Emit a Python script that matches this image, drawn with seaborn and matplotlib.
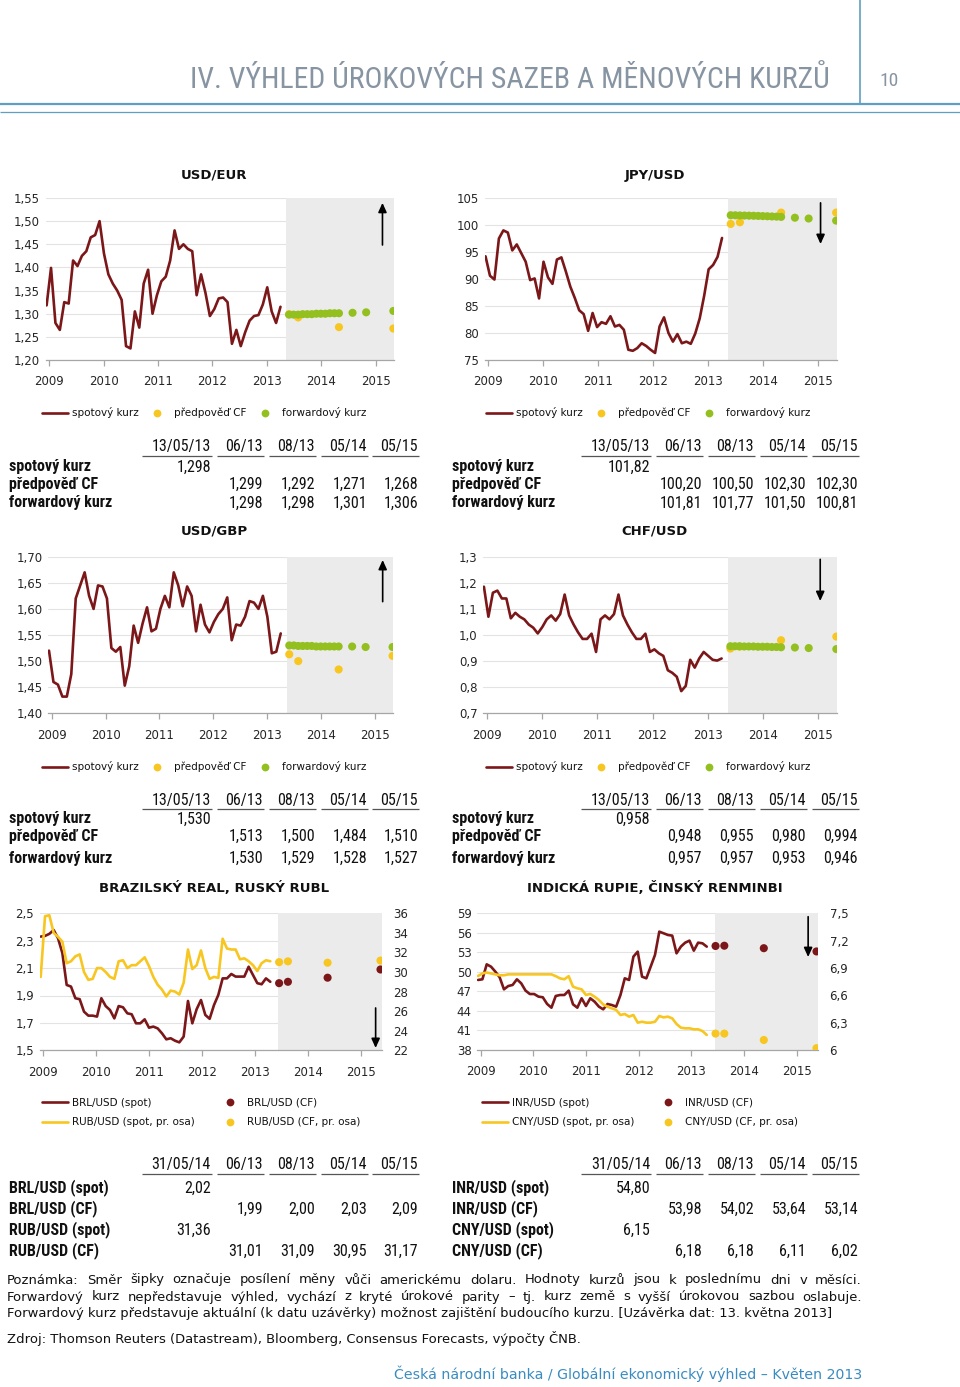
import matplotlib
matplotlib.use('Agg')
import numpy as np
import matplotlib.pyplot as plt
import seaborn as sns
from matplotlib import font_manager
from matplotlib.lines import Line2D

W, H = 960, 1387

# ---------------------------------------------------------------- data
year_labels = ['2009', '2010', '2011', '2012', '2013', '2014', '2015']
# months counted from January 2009 = 0
cf_months = [53, 55, 64, 76]                      # 06/13, 08/13, 05/14, 05/15
fwd_months = list(range(53, 65)) + [67, 70, 76]   # monthly to 05/14, then 08/14, 11/14, 05/15
fwd_in_table = [0, 2, 11, 14]                     # which forward points are in the tables

heads = ['13/05/13', '06/13', '08/13', '05/14', '05/15']
heads_em = ['31/05/14', '06/13', '08/13', '05/14', '05/15']

# USD/EUR
eur_spot = [1.318, 1.399, 1.280, 1.265, 1.325, 1.322, 1.415, 1.403, 1.425, 1.435,
            1.465, 1.470, 1.500, 1.430, 1.385, 1.365, 1.350, 1.330, 1.230, 1.225,
            1.305, 1.270, 1.365, 1.395, 1.300, 1.340, 1.370, 1.380, 1.415, 1.480,
            1.440, 1.450, 1.440, 1.435, 1.340, 1.385, 1.345, 1.295, 1.310, 1.333,
            1.335, 1.325, 1.235, 1.265, 1.230, 1.260, 1.285, 1.295, 1.297, 1.320,
            1.357, 1.305, 1.280, 1.315]
eur_now = 1.298
eur_cf = [1.299, 1.292, 1.271, 1.268]
eur_fwd = [1.298, 1.298, 1.298, 1.299, 1.299, 1.299, 1.300, 1.300, 1.300, 1.301,
           1.301, 1.301, 1.302, 1.303, 1.306]

# JPY/USD
jpy_spot = [94.2, 90.6, 89.9, 97.5, 99.0, 98.6, 95.3, 96.4, 94.8, 93.2,
            89.8, 90.1, 86.4, 93.2, 90.3, 89.1, 93.6, 94.0, 91.4, 88.6,
            86.5, 84.2, 83.5, 80.4, 83.7, 81.1, 82.0, 81.7, 83.1, 81.2,
            81.5, 80.6, 76.9, 76.7, 77.2, 78.1, 77.6, 76.9, 76.3, 81.2,
            82.9, 80.0, 78.4, 79.8, 78.1, 78.4, 78.0, 79.9, 82.7, 86.9,
            91.8, 92.6, 94.1, 97.6]
jpy_now = 101.82
jpy_cf = [100.20, 100.50, 102.30, 102.30]
jpy_fwd = [101.81, 101.80, 101.77, 101.75, 101.73, 101.71, 101.68, 101.65, 101.62,
           101.58, 101.55, 101.50, 101.35, 101.20, 100.81]

# USD/GBP
gbp_spot = [1.520, 1.460, 1.455, 1.432, 1.432, 1.475, 1.620, 1.645, 1.670, 1.625,
            1.600, 1.645, 1.643, 1.620, 1.525, 1.518, 1.527, 1.453, 1.490, 1.568,
            1.535, 1.572, 1.603, 1.557, 1.562, 1.600, 1.625, 1.603, 1.670, 1.645,
            1.605, 1.643, 1.625, 1.557, 1.608, 1.570, 1.555, 1.575, 1.590, 1.600,
            1.622, 1.540, 1.570, 1.568, 1.585, 1.615, 1.612, 1.600, 1.625, 1.585,
            1.515, 1.518, 1.553]
gbp_now = 1.530
gbp_cf = [1.513, 1.500, 1.484, 1.510]
gbp_fwd = [1.530, 1.530, 1.529, 1.529, 1.529, 1.529, 1.528, 1.528, 1.528, 1.528,
           1.528, 1.528, 1.528, 1.527, 1.527]

# CHF/USD
chf_spot = [1.185, 1.070, 1.162, 1.170, 1.140, 1.140, 1.064, 1.085, 1.070, 1.060,
            1.040, 1.028, 1.006, 1.030, 1.060, 1.075, 1.055, 1.080, 1.155, 1.075,
            1.040, 1.010, 0.985, 0.985, 1.005, 0.935, 1.060, 1.075, 1.060, 1.080,
            1.155, 1.075, 1.040, 1.010, 0.985, 0.985, 1.005, 0.935, 0.945, 0.930,
            0.920, 0.865, 0.855, 0.840, 0.785, 0.805, 0.905, 0.875, 0.910, 0.935,
            0.920, 0.905, 0.902, 0.910]
chf_now = 0.958
chf_cf = [0.948, 0.955, 0.980, 0.994]
chf_fwd = [0.957, 0.957, 0.957, 0.956, 0.956, 0.956, 0.955, 0.955, 0.955, 0.954,
           0.954, 0.953, 0.952, 0.950, 0.946]

# BRL/USD (left axis) and RUB/USD (right axis)
brl_spot = [2.330, 2.335, 2.350, 2.378, 2.318, 2.210, 1.977, 1.965, 1.880, 1.873,
            1.782, 1.753, 1.753, 1.746, 1.880, 1.823, 1.794, 1.733, 1.823, 1.814,
            1.770, 1.763, 1.697, 1.697, 1.726, 1.665, 1.673, 1.660, 1.624, 1.580,
            1.588, 1.570, 1.558, 1.600, 1.860, 1.697, 1.800, 1.867, 1.758, 1.730,
            1.830, 1.904, 2.025, 2.025, 2.057, 2.038, 2.038, 2.038, 2.110, 2.050,
            1.990, 1.982, 2.025, 2.000]
rub_spot = [29.5, 35.7, 35.8, 34.0, 33.6, 33.1, 30.9, 31.1, 31.6, 31.8,
            30.0, 29.2, 29.3, 30.4, 30.4, 30.0, 29.5, 29.3, 31.1, 31.2,
            30.4, 30.7, 30.7, 31.1, 31.5, 30.6, 29.5, 28.7, 28.2, 27.5,
            28.1, 28.0, 27.7, 28.9, 32.3, 30.3, 30.7, 32.2, 30.4, 29.3,
            29.5, 29.4, 33.4, 32.4, 32.3, 32.3, 31.3, 31.4, 31.1, 30.7,
            30.1, 30.9, 31.2, 31.1]
brl_now, rub_now = 2.02, 31.36
brl_cf = [1.99, 2.00, 2.03, 2.09]
rub_cf = [31.01, 31.09, 30.95, 31.17]

# INR/USD (left axis) and CNY/USD (right axis)
inr_spot = [48.76, 48.86, 51.16, 50.80, 50.04, 49.17, 47.32, 47.83, 47.99, 48.86,
            48.24, 47.12, 46.60, 46.60, 46.20, 46.10, 45.07, 44.50, 46.30, 46.45,
            46.45, 47.12, 45.02, 44.50, 45.94, 44.76, 45.94, 45.43, 44.66, 44.25,
            45.07, 44.91, 44.66, 46.45, 49.01, 48.76, 52.34, 53.11, 49.27, 49.01,
            50.80, 52.60, 56.18, 55.93, 55.67, 55.57, 52.85, 53.88, 54.49, 54.80,
            53.26, 54.49, 54.39, 53.88]
cny_spot = [6.812, 6.840, 6.850, 6.840, 6.830, 6.820, 6.820, 6.830, 6.830, 6.830,
            6.830, 6.830, 6.830, 6.830, 6.830, 6.830, 6.830, 6.830, 6.810, 6.786,
            6.776, 6.810, 6.695, 6.677, 6.666, 6.604, 6.615, 6.585, 6.549, 6.500,
            6.475, 6.457, 6.440, 6.384, 6.395, 6.366, 6.384, 6.300, 6.310, 6.300,
            6.300, 6.310, 6.373, 6.358, 6.366, 6.347, 6.285, 6.245, 6.238, 6.238,
            6.227, 6.227, 6.208, 6.165]
inr_now, cny_now = 54.80, 6.15
inr_cf = [53.98, 54.02, 53.64, 53.14]
cny_cf = [6.18, 6.18, 6.11, 6.02]

# ---------------------------------------------------------------- style
MAROON = '#7b1719'
YELLOW = '#f8c620'
GREEN = '#93c01f'
SHADE = '#ebebeb'
GRID = '#e3e3e3'
AXIS = '#a6a6a6'
HEAD = '#8794a2'
RULE = '#5f9fc4'
LINK = '#3a8cc0'

sns.set_theme(style='white')
fonts = font_manager.fontManager.ttflist
names = {f.name for f in fonts}
NARROW, STRETCH, TABLE_FS = 'DejaVu Sans', 'normal', 8.5
for n in ['Liberation Sans Narrow', 'Roboto Condensed', 'Open Sans Condensed']:
    if n in names:
        NARROW, TABLE_FS = n, 11.5
        break
else:
    if any(f.name == 'DejaVu Sans' and f.stretch == 'condensed' for f in fonts):
        STRETCH, TABLE_FS = 'condensed', 9.5
plt.rcParams['font.family'] = ['DejaVu Sans']
plt.rcParams['text.color'] = '#111111'
NKW = dict(family=NARROW, fontstretch=STRETCH)

# x layout per chart row: axis end, shaded forecast span, spot span, offset of forecast dots
TOP = dict(xmax=76.0, shade=(52.3, 76.0), span=(-0.6, 51.0), off=-0.1)
BOT = dict(xmax=76.8, shade=(53.3, 76.8), span=(-0.6, 51.5), off=0.5)

fig = plt.figure(figsize=(W / 100, H / 100), dpi=100)
renderer = fig.canvas.get_renderer()


def frac(left, top, right, bottom):
    return [left / W, 1 - bottom / H, (right - left) / W, (bottom - top) / H]


def cz(v, d):
    return f'{v:.{d}f}'.replace('.', ',')


def style_axis(ax, row, ylim, yticks, ydec):
    ax.set_xlim(-0.8, row['xmax'])
    ax.set_ylim(*ylim)
    ax.set_yticks(yticks)
    ax.set_yticklabels([cz(t, ydec) for t in yticks])
    ax.set_xticks(range(0, 73, 12))
    ax.set_xticklabels(year_labels)
    ax.set_axisbelow(True)
    ax.grid(axis='y', color=GRID, lw=0.8)
    ax.grid(axis='x', visible=False)
    for s in ('top', 'right', 'left'):
        ax.spines[s].set_visible(False)
    ax.spines['bottom'].set_color(AXIS)
    ax.spines['bottom'].set_linewidth(0.9)
    ax.tick_params(axis='x', bottom=True, length=4, width=0.9, color=AXIS,
                   labelsize=8.5, pad=7, direction='out')
    ax.tick_params(axis='y', left=False, length=0, labelsize=8.5, pad=4)
    ax.set_xlabel('')
    ax.set_ylabel('')


def arrow(ax, x, y0, y1):
    ax.annotate('', xy=(x, y1), xytext=(x, y0), xycoords=('data', 'axes fraction'),
                arrowprops=dict(arrowstyle='-|>,head_length=0.55,head_width=0.25',
                                color='black', lw=1.2, shrinkA=0, shrinkB=0,
                                mutation_scale=10))


def fx_panel(box, row, ylim, yticks, ydec, spot, cf, fwd, arr):
    ax = fig.add_axes(frac(*box))
    ax.axvspan(*row['shade'], color=SHADE, lw=0, zorder=0.8)
    xs = np.linspace(*row['span'], len(spot))
    sns.lineplot(x=xs, y=spot, ax=ax, color=MAROON, lw=1.9, legend=False, zorder=2)
    sns.scatterplot(x=np.array(cf_months) + row['off'], y=cf, ax=ax, color=YELLOW,
                    s=34, edgecolor='none', zorder=3, legend=False)
    sns.scatterplot(x=np.array(fwd_months) + row['off'], y=fwd, ax=ax, color=GREEN,
                    s=34, edgecolor='none', zorder=4, legend=False)
    style_axis(ax, row, ylim, yticks, ydec)
    arrow(ax, *arr)
    return ax


def em_panel(box, row, ylim, yticks, ydec, ylim2, yticks2, spot, spot2, cf, cf2, arr):
    ax = fig.add_axes(frac(*box))
    ax.axvspan(*row['shade'], color=SHADE, lw=0, zorder=0.8)
    xs = np.linspace(*row['span'], len(spot))
    xs2 = np.linspace(*row['span'], len(spot2))
    sns.lineplot(x=xs, y=spot, ax=ax, color=MAROON, lw=1.9, legend=False, zorder=2)
    sns.scatterplot(x=np.array(cf_months) + row['off'], y=cf, ax=ax, color=MAROON,
                    s=34, edgecolor='none', zorder=3, legend=False)
    style_axis(ax, row, ylim, yticks, ydec)
    ax2 = ax.twinx()
    sns.lineplot(x=xs2, y=spot2, ax=ax2, color=YELLOW, lw=1.9, legend=False, zorder=2)
    sns.scatterplot(x=np.array(cf_months) + row['off'], y=cf2, ax=ax2, color=YELLOW,
                    s=34, edgecolor='none', zorder=3, legend=False)
    ax2.set_ylim(*ylim2)
    ax2.set_yticks(yticks2)
    ax2.set_yticklabels([f'{t:g}'.replace('.', ',') for t in yticks2])
    ax2.grid(False)
    for s in ax2.spines.values():
        s.set_visible(False)
    ax2.tick_params(axis='y', right=False, length=0, labelsize=8.5, pad=8.5)
    ax2.set_ylabel('')
    arrow(ax, *arr)
    return ax


line_h = lambda c: Line2D([], [], color=c, lw=1.9)
dot_h = lambda c: Line2D([], [], ls='none', marker='o', ms=5.6, color=c, mec='none')


def legend(x, y, handles, labels, ncol, colsp=0.55):
    fig.legend(handles, labels, loc='center left', bbox_to_anchor=(x / W, 1 - y / H),
               ncol=ncol, frameon=False, fontsize=7.5, handlelength=2.5,
               handletextpad=0.35, columnspacing=colsp, borderpad=0, borderaxespad=0,
               labelspacing=0.9)


fx_labels = ['spotový kurz', 'předpověď CF', 'forwardový kurz']
fx_handles = [line_h(MAROON), dot_h(YELLOW), dot_h(GREEN)]

# ---------------------------------------------------------------- charts
fx_panel((45.7, 198, 393.8, 360), TOP, (1.20, 1.55), np.round(np.arange(1.20, 1.551, 0.05), 2), 2,
         eur_spot, eur_cf, eur_fwd, (73.5, 0.71, 0.97))
fx_panel((484.6, 198, 836.6, 360), TOP, (75, 105), np.arange(75, 106, 5), 0,
         jpy_spot, jpy_cf, jpy_fwd, (72.5, 0.97, 0.716))
fx_panel((48.1, 556.7, 393.0, 713.3), TOP, (1.40, 1.70), np.round(np.arange(1.40, 1.701, 0.05), 2), 2,
         gbp_spot, gbp_cf, gbp_fwd, (73.7, 0.713, 0.979))
fx_panel((483.0, 556.7, 836.8, 713.3), TOP, (0.7, 1.3), np.round(np.arange(0.7, 1.31, 0.1), 1), 1,
         chf_spot, chf_cf, chf_fwd, (72.4, 0.983, 0.717))
em_panel((39.8, 913.3, 381.8, 1050.3), BOT, (1.5, 2.5), np.round(np.arange(1.5, 2.51, 0.2), 1), 1,
         (22, 36), np.arange(22, 37, 2), brl_spot, rub_spot, brl_cf, rub_cf, (75.4, 0.309, 0.017))
em_panel((477.2, 913.3, 817.8, 1050.0), BOT, (38, 59), np.arange(38, 60, 3), 0,
         (6.0, 7.5), np.round(np.arange(6.0, 7.51, 0.3), 1), inr_spot, cny_spot, inr_cf, cny_cf,
         (74.6, 0.975, 0.68))

legend(42, 413, fx_handles, fx_labels, 3)
legend(486, 413, fx_handles, fx_labels, 3)
legend(42, 767, fx_handles, fx_labels, 3)
legend(486, 767, fx_handles, fx_labels, 3)
legend(42, 1112.5, [line_h(MAROON), line_h(YELLOW), dot_h(MAROON), dot_h(YELLOW)],
       ['BRL/USD (spot)', 'RUB/USD (spot, pr. osa)', 'BRL/USD (CF)', 'RUB/USD (CF, pr. osa)'], 2,
       colsp=2.2)
legend(482, 1112.5, [line_h(MAROON), line_h(YELLOW), dot_h(MAROON), dot_h(YELLOW)],
       ['INR/USD (spot)', 'CNY/USD (spot, pr. osa)', 'INR/USD (CF)', 'CNY/USD (CF, pr. osa)'], 2,
       colsp=2.0)

# ---------------------------------------------------------------- page texts
page = fig.add_axes([0, 0, 1, 1])
page.set_xlim(0, W)
page.set_ylim(H, 0)
page.axis('off')


def width_of(t):
    return t.get_window_extent(renderer=renderer).width


def fit_text(x, y, s, width, ha='left', **kw):
    t = page.text(x, y, s, ha=ha, va='center', fontsize=10, **kw)
    t.set_fontsize(10 * width / width_of(t))
    return t


def justified(x0, x1, y, s, size, **kw):
    words = s.split(' ')
    items = [page.text(0, y, w, va='center', fontsize=size, **kw) for w in words]
    widths = [width_of(t) for t in items]
    gap = (x1 - x0 - sum(widths)) / (len(items) - 1)
    x = x0
    for t, w in zip(items, widths):
        t.set_x(x)
        x += w + gap


# header
page.hlines(104, 0, W, color=RULE, lw=1.6)
page.hlines(112, 0, W, color=RULE, lw=0.9)
page.vlines(860, 0, 104, color=RULE, lw=1.2)
fit_text(830, 80, 'IV. VÝHLED ÚROKOVÝCH SAZEB A MĚNOVÝCH KURZŮ', 640, ha='right',
         color=HEAD, **NKW)
page.text(889, 81, '10', ha='center', va='center', fontsize=14, color=HEAD, **NKW)

# chart titles
for x, y, s in [(214, 175, 'USD/EUR'), (655, 175, 'JPY/USD'), (214, 531, 'USD/GBP'),
                (655, 531, 'CHF/USD'), (214, 888, 'BRAZILSKÝ REAL, RUSKÝ RUBL'),
                (655, 888, 'INDICKÁ RUPIE, ČINSKÝ RENMINBI')]:
    page.text(x, y, s, ha='center', va='center', fontsize=9.5, fontweight='bold')


def table(x_lab, edges, y_head, rows_y, head, rows):
    for i, (e, h) in enumerate(zip(edges, head)):
        page.text(e, y_head, h, ha='right', va='center', fontsize=TABLE_FS, **NKW)
        page.hlines(y_head + 8.5, e - (69 if i == 0 else 46), e + 1, color='#555555', lw=0.9)
    for (label, vals), y in zip(rows, rows_y):
        page.text(x_lab, y, label, ha='left', va='center', fontsize=TABLE_FS,
                  fontweight='bold', **NKW)
        for e, v in zip(edges, vals):
            if v:
                page.text(e, y, v, ha='right', va='center', fontsize=TABLE_FS, **NKW)


def fx_rows(now, cf, fwd, d):
    return [('spotový kurz', [cz(now, d), '', '', '', '']),
            ('předpověď CF', [''] + [cz(v, d) for v in cf]),
            ('forwardový kurz', [''] + [cz(fwd[i], d) for i in fwd_in_table])]


def em_rows(name1, now1, cf1, name2, now2, cf2):
    return [(f'{name1} (spot)', [cz(now1, 2), '', '', '', '']),
            (f'{name1} (CF)', [''] + [cz(v, 2) for v in cf1]),
            (f'{name2} (spot)', [cz(now2, 2), '', '', '', '']),
            (f'{name2} (CF)', [''] + [cz(v, 2) for v in cf2])]


LEFT_EDGES = [211, 263, 315, 367, 418]
RIGHT_EDGES = [650, 702, 754, 806, 858]
table(9, LEFT_EDGES, 447, [467, 484, 503], heads, fx_rows(eur_now, eur_cf, eur_fwd, 3))
table(452, RIGHT_EDGES, 447, [467, 484, 503], heads, fx_rows(jpy_now, jpy_cf, jpy_fwd, 2))
table(9, LEFT_EDGES, 800, [819, 836, 858], heads, fx_rows(gbp_now, gbp_cf, gbp_fwd, 3))
table(452, RIGHT_EDGES, 800, [819, 836, 858], heads, fx_rows(chf_now, chf_cf, chf_fwd, 3))
table(9, LEFT_EDGES, 1165, [1188, 1209, 1230, 1251], heads_em,
      em_rows('BRL/USD', brl_now, brl_cf, 'RUB/USD', rub_now, rub_cf))
table(452, RIGHT_EDGES, 1165, [1188, 1209, 1230, 1251], heads_em,
      em_rows('INR/USD', inr_now, inr_cf, 'CNY/USD', cny_now, cny_cf))

# footnotes
note3 = ('Forwardový kurz představuje aktuální (k datu uzávěrky) možnost zajištění '
         'budoucího kurzu. [Uzávěrka dat: 13. května 2013]')
t3 = fit_text(7, 1313, note3, 826)
fs = t3.get_fontsize()
justified(7, 862, 1280, 'Poznámka: Směr šipky označuje posílení měny vůči americkému dolaru. '
          'Hodnoty kurzů jsou k poslednímu dni v měsíci.', fs)
justified(7, 862, 1297, 'Forwardový kurz nepředstavuje výhled, vychází z kryté úrokové parity '
          '– tj. kurz země s vyšší úrokovou sazbou oslabuje.', fs)
page.text(7, 1338, 'Zdroj: Thomson Reuters (Datastream), Bloomberg, Consensus Forecasts, '
          'výpočty ČNB.', va='center', fontsize=fs)
fit_text(862, 1374, 'Česká národní banka / Globální ekonomický výhled – Květen 2013', 466,
         ha='right', color=LINK)

fig.savefig('out.png', dpi=100)
